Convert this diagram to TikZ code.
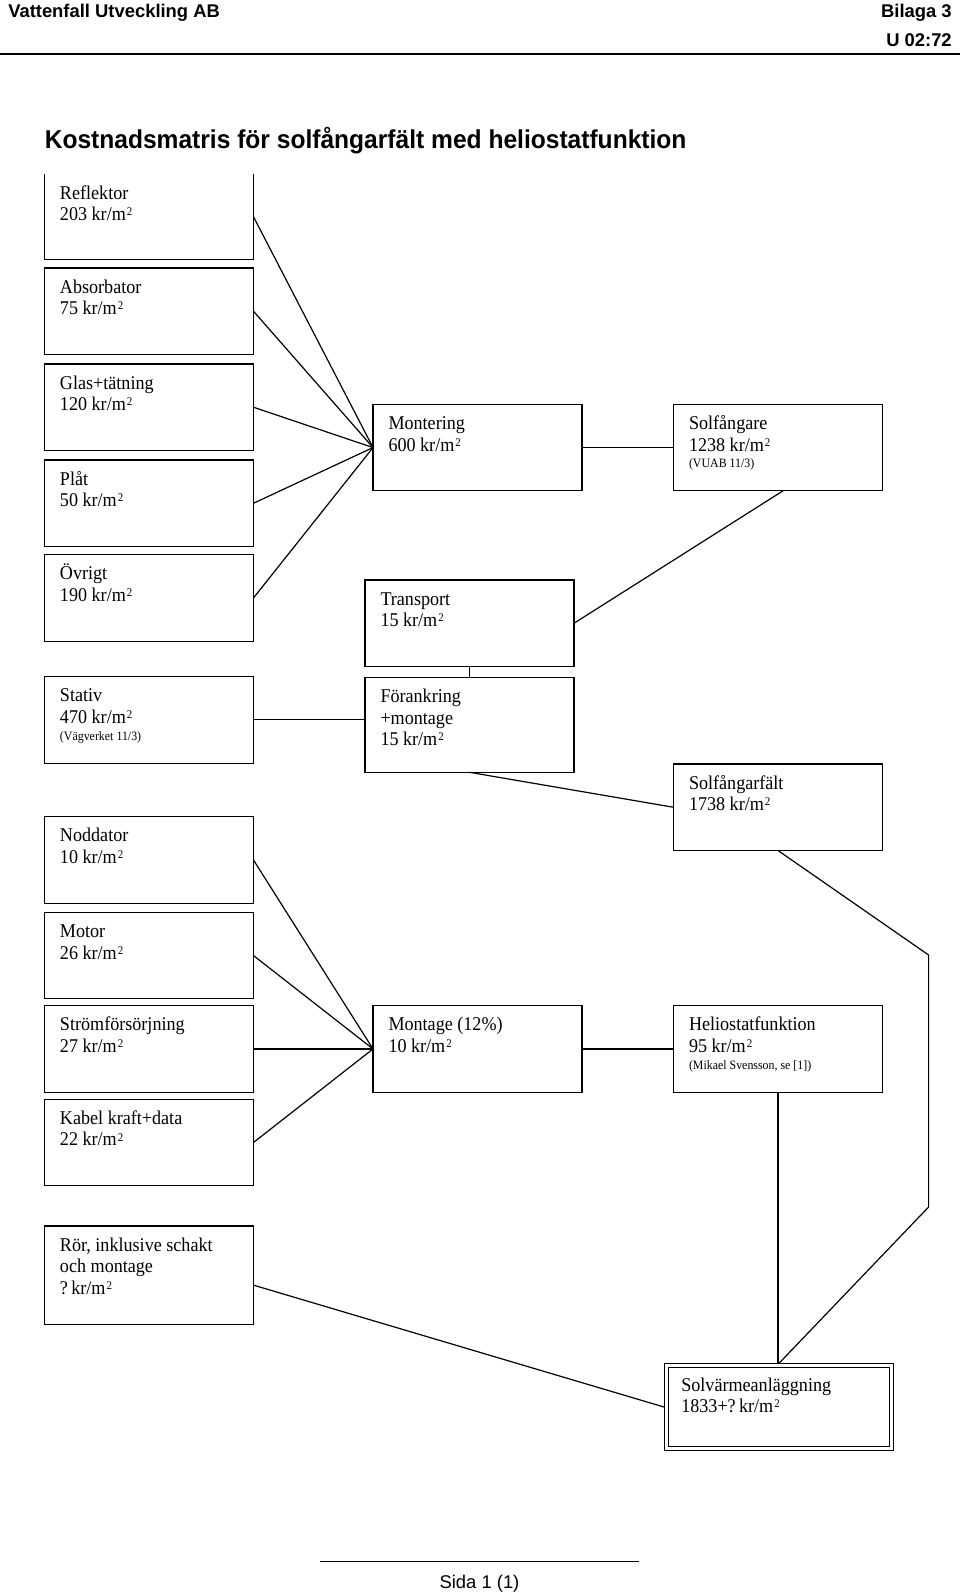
\documentclass[tikz,border=0pt]{standalone}
\usepackage{fontspec}
\setmainfont{Liberation Serif}[FakeStretch=0.93]
\newfontfamily\hdrfont{Liberation Sans}
\newfontfamily\titlefont{Liberation Sans}[FakeStretch=0.95]
\usetikzlibrary{calc}
\newcommand\bodysz{\fontsize{14.6}{16.3}\selectfont}
\newcommand\smallsz{\fontsize{9.6}{11}\selectfont}
\newcommand\kvm{kr/m\kern0.8pt\raisebox{3.6pt}{\fontsize{8.8}{8}\selectfont 2}}
\newcommand\boxlines[1]{\vtop{\baselineskip=16.3pt #1}}
\newcommand\tline[1]{\hbox{#1}}
\newcommand\sline[1]{\vskip-3.8pt\hbox{\smallsz #1}}
\begin{document}
\begin{tikzpicture}[x=0.75pt,y=-0.75pt,
  box/.style={draw, line width=0.9pt, anchor=north west, inner sep=0pt, outer sep=0pt,
    minimum width=156.75pt, minimum height=64.875pt},
  txt/.style={anchor=base west, inner sep=0pt, outer sep=0pt, font=\bodysz},
  hdr/.style={inner sep=0pt, font={\fontsize{13.8}{16}\hdrfont\bfseries}},
  conn/.style={line width=0.9pt}]
\useasboundingbox (0,0) rectangle (960,1593);
% header
\node[hdr, anchor=base west] (hdrL) at (8,17) {Vattenfall Utveckling AB};
\node[hdr, anchor=base east] (hdrR) at (952,17) {Bilaga 3};
\node[hdr, anchor=base east] (hdrU) at (952,46) {U 02:72};
\coordinate (hl) at (0,53.5);
\coordinate (hr) at (960,53.5);
\draw[line width=1.5pt] (hl) -- (hr);
\node[anchor=base west, inner sep=0pt, font={\fontsize{19.4}{22}\titlefont\bfseries}] (title) at (44.5,148.5)
  {Kostnadsmatris för solfångarfält med heliostatfunktion};
% left column
\node[box, draw=none, minimum height=64.125pt] (refl) at (44.5,174) {};
\draw[conn] (refl.north west) -- (refl.south west) -- (refl.south east) -- (refl.north east);
\node[box] (abs) at (44.5,268) {};
\node[box] (glas) at (44.5,364) {};
\node[box] (plat) at (44.5,460) {};
\node[box] (ovr) at (44.5,554.7) {};
\node[box] (stativ) at (44.5,676.6) {};
\node[box] (nodd) at (44.5,816.8) {};
\node[box] (motor) at (44.5,912.3) {};
\node[box] (strom) at (44.5,1005.7) {};
\node[box] (kabel) at (44.5,1099.2) {};
\node[box, minimum height=73.7pt] (ror) at (44.5,1226) {};
% middle column
\node[box] (mont) at (373,404.3) {};
\node[box] (trans) at (365,580) {};
\node[box, minimum height=71.25pt] (fora) at (365,677.3) {};
\node[box] (mtg) at (373,1005.7) {};
% right column
\node[box] (solf) at (673.5,404.3) {};
\node[box] (sfalt) at (673.5,764) {};
\node[box] (helio) at (673.5,1005.7) {};
\node[box, double, line width=0.75pt, double distance=2.25pt, minimum width=168.75pt,
  minimum height=61.8pt, outer sep=1.875pt] (solv) at (664,1363.3) {};
% texts
\node[txt] (reflT) at ($(refl.north west)+(15.5,25)$) {\boxlines{\tline{Reflektor}\tline{203 \kvm}}};
\node[txt] (absT) at ($(abs.north west)+(15.5,25)$) {\boxlines{\tline{Absorbator}\tline{75 \kvm}}};
\node[txt] (glasT) at ($(glas.north west)+(15.5,25)$) {\boxlines{\tline{Glas+tätning}\tline{120 \kvm}}};
\node[txt] (platT) at ($(plat.north west)+(15.5,25)$) {\boxlines{\tline{Plåt}\tline{50 \kvm}}};
\node[txt] (ovrT) at ($(ovr.north west)+(15.5,25)$) {\boxlines{\tline{Övrigt}\tline{190 \kvm}}};
\node[txt] (stativT) at ($(stativ.north west)+(15.5,25)$) {\boxlines{\tline{Stativ}\tline{470 \kvm}\sline{(Vägverket 11/3)}}};
\node[txt] (noddT) at ($(nodd.north west)+(15.5,25)$) {\boxlines{\tline{Noddator}\tline{10 \kvm}}};
\node[txt] (motorT) at ($(motor.north west)+(15.5,25)$) {\boxlines{\tline{Motor}\tline{26 \kvm}}};
\node[txt] (stromT) at ($(strom.north west)+(15.5,25)$) {\boxlines{\tline{Strömförsörjning}\tline{27 \kvm}}};
\node[txt] (kabelT) at ($(kabel.north west)+(15.5,25)$) {\boxlines{\tline{Kabel kraft+data}\tline{22 \kvm}}};
\node[txt] (rorT) at ($(ror.north west)+(15.5,25)$) {\boxlines{\tline{Rör, inklusive schakt}\tline{och montage}\tline{?\,\kvm}}};
\node[txt] (montT) at ($(mont.north west)+(15.5,25)$) {\boxlines{\tline{Montering}\tline{600 \kvm}}};
\node[txt] (transT) at ($(trans.north west)+(15.5,25)$) {\boxlines{\tline{Transport}\tline{15 \kvm}}};
\node[txt] (foraT) at ($(fora.north west)+(15.5,25)$) {\boxlines{\tline{Förankring}\tline{+montage}\tline{15 \kvm}}};
\node[txt] (mtgT) at ($(mtg.north west)+(15.5,25)$) {\boxlines{\tline{Montage (12\%)}\tline{10 \kvm}}};
\node[txt] (solfT) at ($(solf.north west)+(15.5,25)$) {\boxlines{\tline{Solfångare}\tline{1238 \kvm}\sline{(VUAB 11/3)}}};
\node[txt] (sfaltT) at ($(sfalt.north west)+(15.5,25)$) {\boxlines{\tline{Solfångarfält}\tline{1738 \kvm}}};
\node[txt] (helioT) at ($(helio.north west)+(15.5,25)$) {\boxlines{\tline{Heliostatfunktion}\tline{95 \kvm}\sline{(Mikael Svensson, se [1])}}};
\node[txt] (solvT) at ($(solv.north west)+(17.3,27.7)$) {\boxlines{\tline{Solvärmeanläggning}\tline{1833+?\,\kvm}}};
% connectors
\draw[conn] (refl.east) -- (mont.west);
\draw[conn] (abs.east) -- (mont.west);
\draw[conn] (glas.east) -- (mont.west);
\draw[conn] (plat.east) -- (mont.west);
\draw[conn] (ovr.east) -- (mont.west);
\draw[conn] (mont.east) -- (solf.west);
\draw[conn] ($(solf.south)+(5,0)$) -- (trans.east);
\draw[conn] (trans.south) -- (fora.north);
\draw[conn] (stativ.east) -- (stativ.east -| fora.west);
\draw[conn] (fora.south) -- (sfalt.west);
\draw[conn] (nodd.east) -- (mtg.west);
\draw[conn] (motor.east) -- (mtg.west);
\draw[conn] (strom.east) -- (mtg.west);
\draw[conn] (kabel.east) -- (mtg.west);
\draw[conn] (mtg.east) -- (helio.west);
\coordinate (b1) at (928.6,955);
\coordinate (b2) at (928.6,1207);
\draw[conn] (sfalt.south) -- (b1) -- (b2) -- (solv.north);
\draw[conn] (helio.south) -- (helio.south |- solv.north);
\draw[conn] ($(ror.east)+(0,10)$) -- (solv.west);
% footer
\coordinate (fl) at (320,1561.5);
\coordinate (fr) at (638.5,1561.5);
\draw[line width=1.1pt] (fl) -- (fr);
\node[anchor=base, inner sep=0pt, font={\fontsize{13.8}{16}\hdrfont}] (sida) at (479.5,1588) {Sida 1 (1)};
\end{tikzpicture}
\end{document}
